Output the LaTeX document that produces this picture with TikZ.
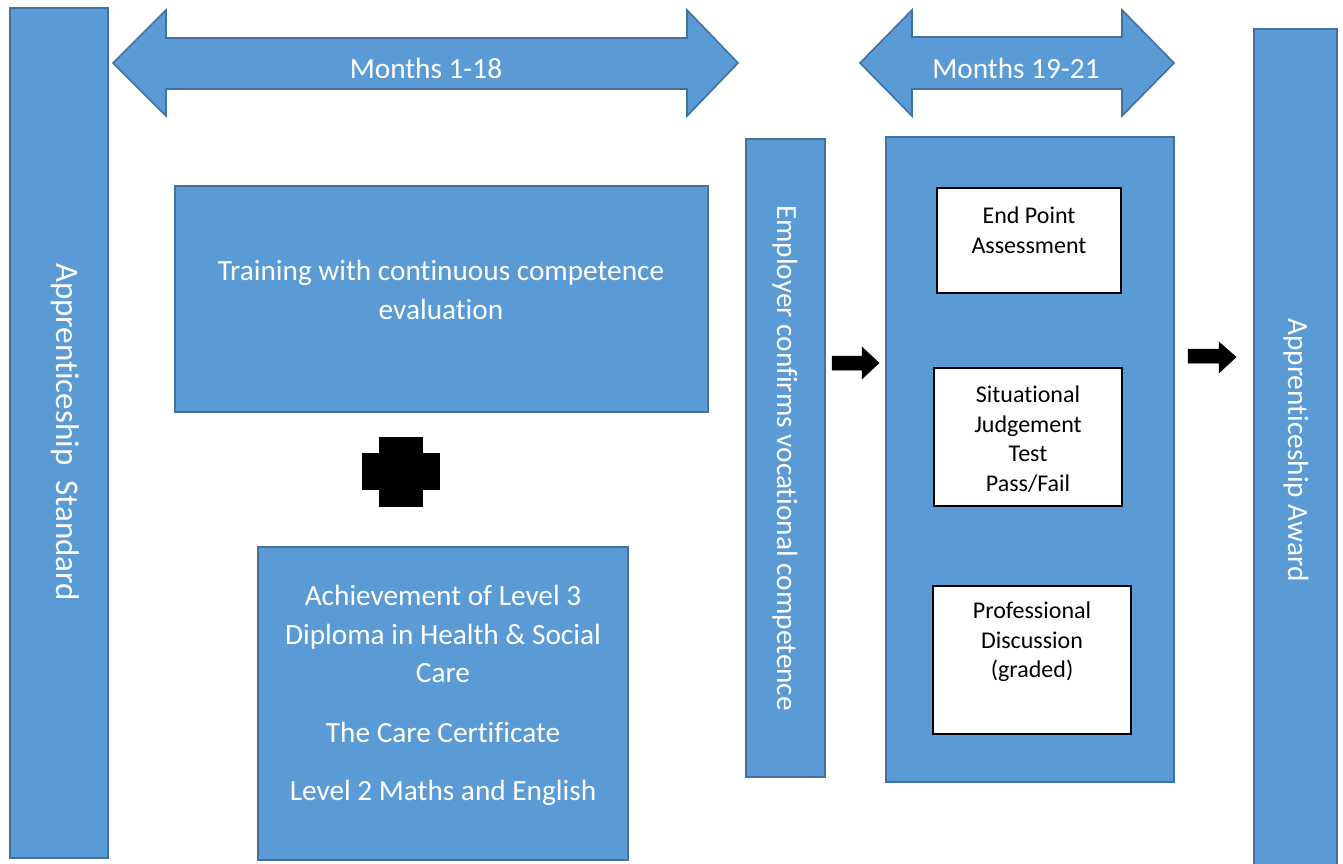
\documentclass[tikz,border=0pt]{standalone}
\usepackage{fontspec}
\setmainfont{Carlito}[Ligatures=NoCommon]
\definecolor{fillc}{HTML}{5B9BD5}
\definecolor{bordc}{HTML}{41719C}
\begin{document}
\begin{tikzpicture}[x=1pt,y=-1pt,
  blk/.style={draw=bordc, fill=fillc, line width=1.6pt, inner sep=0pt},
  wbox/.style={draw=black, fill=white, line width=1.6pt, inner sep=0pt},
  wtxt/.style={text=white, font=\fontsize{29.3}{38.5}\selectfont, align=center, inner sep=0pt},
  btxt/.style={text=black, font=\fontsize{24}{29.5}\selectfont, align=center, inner sep=0pt},
  blkarrow/.style={fill=black, draw=black, line width=0.5pt}]
\useasboundingbox (0,0) rectangle (1343,863);
\clip (0,0) rectangle (1343,863);
% bars and boxes
\node[blk, minimum width=98pt, minimum height=850pt] (std) at (59,433) {};
\node[blk, minimum width=533pt, minimum height=226pt] (train) at (441.5,299) {};
\node[blk, minimum width=370pt, minimum height=313pt] (ach) at (443,703.5) {};
\node[blk, minimum width=79pt, minimum height=638pt] (emp) at (785.5,458) {};
\node[blk, minimum width=288pt, minimum height=645pt] (epa) at (1030,459.5) {};
\node[blk, minimum width=83pt, minimum height=846pt] (award) at (1295.5,452) {};
\node[wbox, minimum width=184pt, minimum height=105pt] (wb1) at (1029,240.5) {};
\node[wbox, minimum width=188pt, minimum height=138pt] (wb2) at (1028,437) {};
\node[wbox, minimum width=198pt, minimum height=148pt] (wb3) at (1032,660) {};
% double arrows
\draw[blk] (113,63) -- (166,10) -- (166,38) -- (687,38) -- (687,10) -- (738,63)
  -- (687,116) -- (687,89) -- (166,89) -- (166,116) -- cycle;
\draw[blk] (860,63) -- (912,10) -- (912,37) -- (1122,37) -- (1122,10) -- (1174,63)
  -- (1122,116) -- (1122,89) -- (912,89) -- (912,116) -- cycle;
% plus
\fill[black] (379,437) rectangle (423,507);
\fill[black] (362,453) rectangle (440,490);
% black arrows
\draw[blkarrow] (832,356) -- (862,356) -- (862,347) -- (879,363) -- (862,379) -- (862,370) -- (832,370) -- cycle;
\draw[blkarrow] (1188,349) -- (1219,349) -- (1219,342) -- (1236,357) -- (1219,373) -- (1219,363) -- (1188,363) -- cycle;
% texts
\node[wtxt] (m1) at (426,68) {Months 1-18};
\node[wtxt] (m2) at (1016,68) {Months 19-21};
\node[wtxt, rotate=-90, font=\fontsize{33}{40}\selectfont] (tstd) at (65,432) {Apprenticeship\ \ Standard};
\node[wtxt, rotate=-90] (taward) at (1296,450) {Apprenticeship Award};
\node[wtxt, rotate=-90] (temp) at (785,458) {Employer confirms vocational competence};
\node[wtxt] (ttrain) at (441,290) {Training with continuous competence\\evaluation};
\node[wtxt] (tach1) at (443,634) {Achievement of Level 3\\Diploma in Health \& Social\\Care};
\node[wtxt] (tach2) at (443,732) {The Care Certificate};
\node[wtxt] (tach3) at (443,793) {Level 2 Maths and English};
\node[btxt] (t1) at (1029,230) {End Point\\Assessment};
\node[btxt] (t2) at (1028,439) {Situational\\Judgement\\Test\\Pass/Fail};
\node[btxt] (t3) at (1032,642) {Professional\\Discussion\\(graded)};
\end{tikzpicture}
\end{document}
